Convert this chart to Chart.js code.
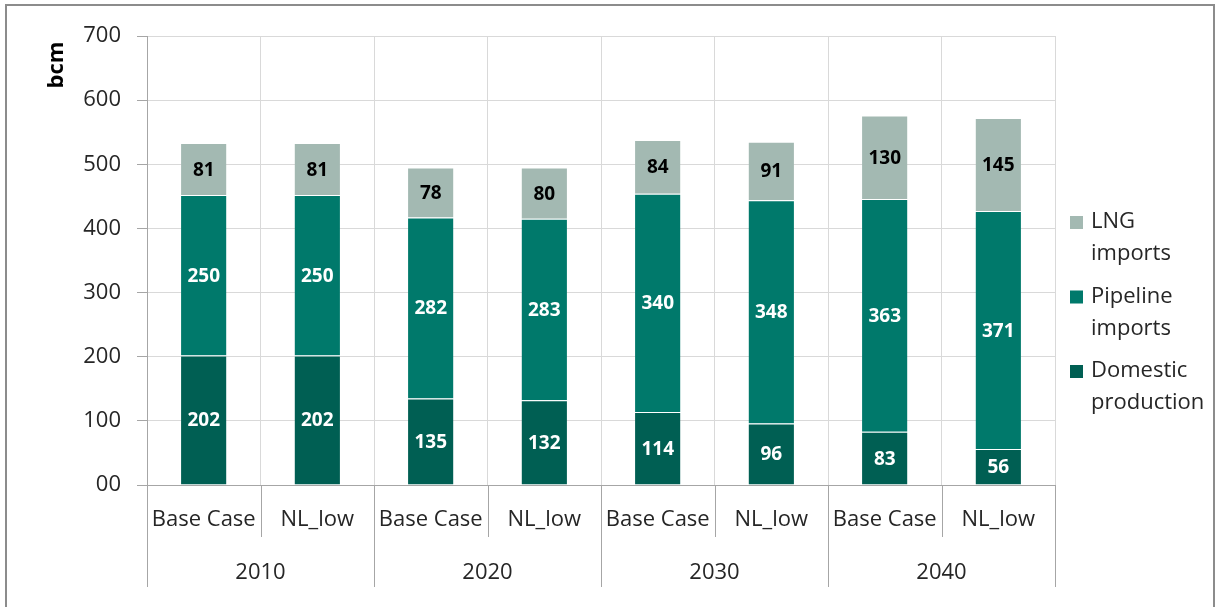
<!DOCTYPE html>
<html>
<head>
<meta charset="utf-8">
<script src="https://cdn.jsdelivr.net/npm/chart.js@4"></script>
<style>
  html, body { margin: 0; padding: 0; background: #fff; }
  #wrap { width: 1216px; height: 607px; }
</style>
</head>
<body>
<div id="wrap"><canvas id="gas-chart" width="1216" height="607"></canvas></div>
<script>
// Values (bcm)
const scenarios = ["Base Case", "NL_low", "Base Case", "NL_low", "Base Case", "NL_low", "Base Case", "NL_low"];
const years = ["2010", "2020", "2030", "2040"];
const domestic = [202, 202, 135, 132, 114, 96, 83, 56];
const pipeline = [250, 250, 282, 283, 340, 348, 363, 371];
const lng = [81, 81, 78, 80, 84, 91, 130, 145];

const FONT = "'Open Sans', 'DejaVu Sans', sans-serif";
const AXIS_GREY = "#a6a6a6";
const GRID_GREY = "#d9d9d9";

// Bold value labels in the middle of each segment
const segmentLabels = {
    id: "segmentLabels",
    afterDatasetsDraw(chart) {
        const ctx = chart.ctx;
        ctx.save();
        ctx.font = `bold 19px ${FONT}`;
        ctx.textAlign = "center";
        ctx.textBaseline = "middle";
        chart.data.datasets.forEach((ds, i) => {
            ctx.fillStyle = ds.labelColor;
            chart.getDatasetMeta(i).data.forEach((bar, j) => {
                const {x, y, base} = bar.getProps(["x", "y", "base"], true);
                ctx.fillText(ds.data[j], x, (y + base) / 2 + 1);
            });
        });
        ctx.restore();
    }
};

// Second row of the category axis (years) plus the separator lines
const yearAxis = {
    id: "yearAxis",
    afterDraw(chart) {
        const ctx = chart.ctx;
        const xs = chart.scales.x;
        const n = chart.data.labels.length;
        const step = xs.width / n;
        const top = chart.chartArea.bottom;
        ctx.save();
        ctx.strokeStyle = AXIS_GREY;
        ctx.lineWidth = 1;
        for (let i = 0; i <= n; i++) {
            const px = Math.round(xs.left + i * step) + 0.5;
            const len = i % 2 === 0 ? 102 : 52;
            ctx.beginPath();
            ctx.moveTo(px, top);
            ctx.lineTo(px, top + len);
            ctx.stroke();
        }
        ctx.fillStyle = "#262626";
        ctx.font = `22px ${FONT}`;
        ctx.textAlign = "center";
        ctx.textBaseline = "middle";
        years.forEach((yr, k) => {
            ctx.fillText(yr, xs.left + (2 * k + 1) * step, top + 88);
        });
        ctx.restore();
    }
};

// Y title, right-hand legend and outer frame
const decorations = {
    id: "decorations",
    beforeDraw(chart) {
        const ctx = chart.ctx;
        ctx.save();
        ctx.fillStyle = "#fff";
        ctx.fillRect(0, 0, chart.width, chart.height);
        ctx.strokeStyle = "#8c8c8c";
        ctx.lineWidth = 2;
        ctx.strokeRect(6, 5, 1208, 612);
        ctx.restore();
    },
    afterDraw(chart) {
        const ctx = chart.ctx;
        const area = chart.chartArea;
        ctx.save();
        ctx.fillStyle = "#000";
        ctx.font = `bold 22px ${FONT}`;
        ctx.textAlign = "center";
        ctx.textBaseline = "middle";
        ctx.translate(57, area.top + 29);
        ctx.rotate(-Math.PI / 2);
        ctx.fillText("bcm", 0, 0);
        ctx.restore();

        ctx.save();
        ctx.font = `22px ${FONT}`;
        ctx.textBaseline = "middle";
        ctx.textAlign = "left";
        const x0 = area.right + 15;
        let y = 222;
        [...chart.data.datasets].reverse().forEach(ds => {
            ctx.fillStyle = ds.backgroundColor;
            ctx.fillRect(x0, y - 6, 13, 13);
            ctx.fillStyle = "#262626";
            ds.label.split("\n").forEach((line, k) => {
                ctx.fillText(line, x0 + 21, y + k * 32);
            });
            y += 74.5;
        });
        ctx.restore();
    }
};

const makeSeries = (label, data, color, labelColor) => ({
    label,
    data,
    backgroundColor: color,
    borderColor: "#ffffff",
    borderWidth: {top: 1, bottom: 0, left: 0, right: 0},
    borderSkipped: false,
    labelColor,
    barPercentage: 0.4,
    categoryPercentage: 1.0
});

new Chart(document.getElementById("gas-chart"), {
    type: "bar",
    data: {
        labels: scenarios,
        datasets: [
            makeSeries("Domestic\nproduction", domestic, "#005f53", "#ffffff"),
            makeSeries("Pipeline\nimports", pipeline, "#00796b", "#ffffff"),
            makeSeries("LNG\nimports", lng, "#a3b9b2", "#000000")
        ]
    },
    options: {
        responsive: false,
        animation: false,
        layout: {padding: {top: 36, right: 161, left: 0, bottom: 0}},
        plugins: {legend: {display: false}, tooltip: {enabled: false}},
        scales: {
            x: {
                stacked: true,
                grid: {offset: true, color: GRID_GREY, drawTicks: false},
                border: {color: AXIS_GREY},
                ticks: {color: "#262626", font: {family: FONT, size: 22}, padding: 22, maxRotation: 0, autoSkip: false},
                afterFit: scale => { scale.height = 122; }
            },
            y: {
                stacked: true,
                min: 0,
                max: 700,
                grid: {color: GRID_GREY, tickColor: AXIS_GREY, tickLength: 10},
                border: {color: AXIS_GREY},
                ticks: {
                    stepSize: 100,
                    color: "#262626",
                    font: {family: FONT, size: 22},
                    padding: 16,
                    callback: v => v === 0 ? "00" : v
                },
                afterFit: scale => { scale.width = 147; }
            }
        }
    },
    plugins: [decorations, segmentLabels, yearAxis]
});
</script>
</body>
</html>
